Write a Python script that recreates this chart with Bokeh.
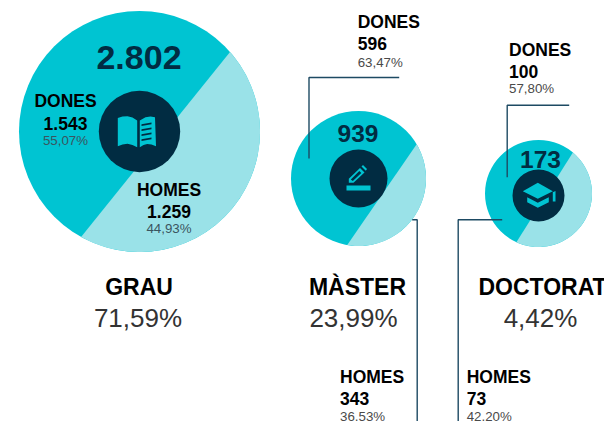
from math import cos, sin, radians
from bokeh.plotting import figure
from bokeh.models import Range1d
from bokeh.core.properties import value
from bokeh.embed import file_html
from bokeh.resources import INLINE

categories = ["GRAU", "MÀSTER", "DOCTORAT"]
category_share = ["71,59%", "23,99%", "4,42%"]
totals = ["2.802", "939", "173"]
dones_label = ["1.543", "596", "100"]
dones_pct = ["55,07%", "63,47%", "57,80%"]
homes_label = ["1.259", "343", "73"]
homes_pct = ["44,93%", "36,53%", "42,20%"]

# layout (screen pixels)
cx = [139, 358, 538]
cy = [131, 178, 193]
rad = [120.5, 67.5, 53.5]
hub_r = [40.7, 29, 26]
hub_cy = [131, 178, 195]
chord_a = [41.3, 30.5, 50]        # math angles of the split's two ends
chord_b = [241, 260.4, 245.6]

TEAL = "#00c4d2"
LIGHT = "#9ae2e8"
NAVY = "#012c42"
LEAD = "#1d4a63"
FONT = value("Liberation Sans")

W, H = 604, 421
p = figure(width=W, height=H, output_backend="svg", toolbar_location=None,
           x_range=Range1d(0, W), y_range=Range1d(H, 0),
           min_border=0, outline_line_color=None)
p.axis.visible = False
p.grid.visible = False


def txt(x, y, s, size, color="#000000", bold=False, align="center"):
    p.text([x], [y - 0.36 * size], text=[s], text_font=FONT, text_font_size=f"{size}px",
           text_font_style="bold" if bold else "normal", text_color=color,
           text_align=align, text_baseline="alphabetic")


def poly(pts, color):
    p.patch([a for a, _ in pts], [b for _, b in pts], fill_color=color, line_color=None)


for i in range(3):
    p.circle([cx[i]], [cy[i]], radius=rad[i], fill_color=TEAL, line_color=None)
    a, b = chord_b[i], chord_a[i] + 360
    n = 80
    seg = [(cx[i] + rad[i] * cos(radians(a + (b - a) * k / n)),
            cy[i] - rad[i] * sin(radians(a + (b - a) * k / n))) for k in range(n + 1)]
    poly(seg, LIGHT)

# leader lines
for xs, ys in [
    ([308.5, 308.5, 398.7], [158, 77, 77]),
    ([411.7, 416.7, 416.7], [219.3, 219.3, 421]),
    ([506.7, 506.7, 568.7], [176.7, 104.7, 104.7]),
    ([501.7, 457.7, 457.7], [219.3, 219.3, 421]),
]:
    p.line(xs, ys, line_color=LEAD, line_width=1.4)

for i in range(3):
    p.circle([cx[i]], [hub_cy[i]], radius=hub_r[i], fill_color=NAVY, line_color=None)

# book icon
poly([(117.3, 117.5), (122, 116), (127, 115.7), (132, 117), (136.7, 120), (136.7, 146.7),
      (132, 144.5), (127, 143.3), (122, 144), (117.3, 145.7)], TEAL)
poly([(139.3, 120), (145, 116.8), (150, 116), (154.5, 116.7), (155.5, 145.7), (151, 144),
      (146.7, 143.5), (143, 144.5), (139.3, 146.7)], TEAL)
for y0 in [122.5, 127.5, 132.5, 137.5]:
    poly([(141, y0 + 1.2), (151, y0 - 0.6), (151, y0 + 1.2), (141, y0 + 3)], NAVY)

# pencil icon
poly([(346, 185), (370, 185), (370, 190), (346, 190)], TEAL)
poly([(348.3, 178.3), (359.5, 167.5), (364, 172), (353, 182.3), (348.3, 182.3)], TEAL)
poly([(361, 166), (362.5, 164.5), (366.5, 168.5), (365.3, 170.3)], TEAL)
poly([(350.3, 179), (358.8, 170.6), (360.8, 172.4), (352.3, 180.6)], NAVY)

# cap icon
poly([(522.3, 190.7), (537.3, 182.3), (552.3, 190.7), (537.3, 198.3)], TEAL)
poly([(526.7, 196.7), (537.3, 202.3), (548.3, 196.7), (548.3, 201.7), (537.3, 207.3), (526.7, 201.7)], TEAL)
poly([(552.3, 191.7), (555, 190.5), (555, 201), (552.3, 201)], TEAL)

# totals
txt(138.5, 69.5, totals[0], 34, NAVY, True)
txt(357.5, 141.7, totals[1], 24.5, NAVY, True)
txt(540, 167.7, totals[2], 24.5, NAVY, True)

LBL = 17.5
# big pie labels
txt(65, 107, "DONES", LBL, bold=True)
txt(65, 129, dones_label[0], LBL, bold=True)
txt(65, 145, dones_pct[0], 13.3, "#3a5560")
txt(168.5, 195.7, "HOMES", LBL, bold=True)
txt(168.5, 217, homes_label[0], LBL, bold=True)
txt(168.5, 233, homes_pct[0], 13.3, "#3a5560")

# outer labels
txt(357.2, 28, "DONES", LBL, bold=True, align="left")
txt(357.2, 49, dones_label[1], LBL, bold=True, align="left")
txt(357.2, 66.7, dones_pct[1], 13.3, "#4a4a4a", align="left")
txt(508.5, 56, "DONES", LBL, bold=True, align="left")
txt(508.5, 77, dones_label[2], LBL, bold=True, align="left")
txt(508.5, 92.7, dones_pct[2], 13.3, "#4a4a4a", align="left")
txt(339.5, 382.7, "HOMES", LBL, bold=True, align="left")
txt(339.5, 404, homes_label[1], LBL, bold=True, align="left")
txt(339.5, 421, homes_pct[1], 13.3, "#4a4a4a", align="left")
txt(466.2, 382.7, "HOMES", LBL, bold=True, align="left")
txt(466.2, 404, homes_label[2], LBL, bold=True, align="left")
txt(466.2, 421, homes_pct[2], 13.3, "#4a4a4a", align="left")

# category captions
for xc, xp, c, s in zip([138.5, 357, 542], [137.5, 353, 540], categories, category_share):
    txt(xc, 295, c, 23, "#000000", True)
    txt(xp, 327, s, 26, "#333333")

open("out.html", "w").write(file_html(p, INLINE))
